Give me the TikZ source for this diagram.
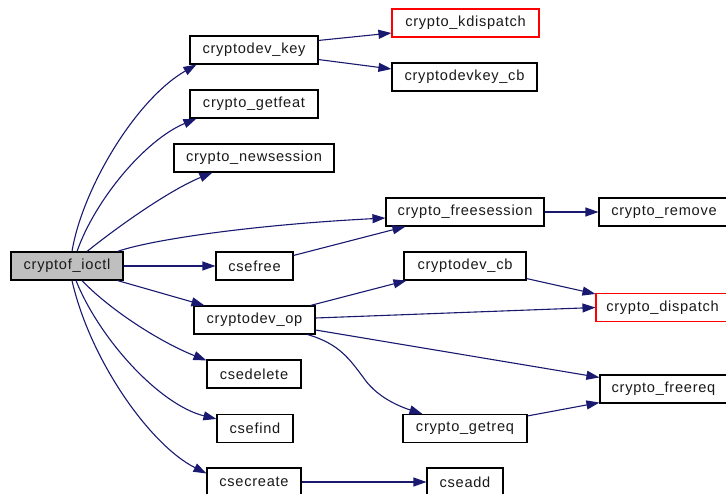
\documentclass[tikz,border=0pt]{standalone}
\usepackage{fontspec}
\setmainfont{Liberation Sans}[LetterSpace=5]
\usetikzlibrary{arrows.meta}
\definecolor{edgeblue}{HTML}{191970}
\definecolor{rootgray}{HTML}{BFBFBF}
\tikzset{
  fn/.style={draw=black, line width=1.1pt, fill=white, inner sep=0pt,
    minimum height=28pt, font=\fontsize{14.6}{16}\selectfont, text=black!90},
  ext/.style={fn, draw=red},
  root/.style={fn, fill=rootgray},
  call/.style={draw=edgeblue, line width=1.1pt,
    -{Triangle[length=13pt,width=9pt]}},
}
\begin{document}
\begin{tikzpicture}[x=1pt,y=-1pt]
\useasboundingbox (0,0) rectangle (726,494);
\clip (0,0) rectangle (726,494);

% functions
\node[root, minimum width=112pt] (ioctl)  at (67,266)    {cryptof\_ioctl};
\node[fn,  minimum width=128pt] (key)     at (254,50)    {cryptodev\_key};
\node[fn,  minimum width=128pt] (getfeat) at (254,104)   {crypto\_getfeat};
\node[fn,  minimum width=160pt] (newsess) at (254,158)   {crypto\_newsession};
\node[ext, minimum width=147pt] (kdisp)   at (465.5,23)  {crypto\_kdispatch};
\node[fn,  minimum width=145pt] (keycb)   at (464.5,77)  {cryptodevkey\_cb};
\node[fn,  minimum width=158pt] (freesess) at (465,212)  {crypto\_freesession};
\node[fn,  minimum width=130pt] (remove)  at (664,212)   {crypto\_remove};
\node[fn,  minimum width=77pt]  (csefree) at (254.5,266) {csefree};
\node[fn,  minimum width=122pt] (devcb)   at (465,266)   {cryptodev\_cb};
\node[ext, minimum width=133pt] (disp)    at (662.5,307.5) {crypto\_dispatch};
\node[fn,  minimum width=121pt] (op)      at (254.5,320) {cryptodev\_op};
\node[fn,  minimum width=94pt]  (csedel)  at (254,374)   {csedelete};
\node[fn,  minimum width=127pt] (freereq) at (663.5,389) {crypto\_freereq};
\node[fn,  minimum width=76pt]  (csefind) at (255,428.5) {csefind};
\node[fn,  minimum width=124pt] (getreq)  at (465,428.5) {crypto\_getreq};
\node[fn,  minimum width=94pt]  (csecreate) at (254,482) {csecreate};
\node[fn,  minimum width=76pt]  (cseadd)  at (465,482)   {cseadd};

% calls made by cryptof_ioctl
\draw[call] ([xshift=5pt]ioctl.north) .. controls (82,190) and (135,100) .. ([xshift=7pt]key.south west);
\draw[call] ([xshift=10pt]ioctl.north) .. controls (95,200) and (145,140) .. ([xshift=7pt]getfeat.south west);
\draw[call] ([xshift=20pt]ioctl.north) .. controls (120,225) and (170,190) .. ([xshift=39pt]newsess.south west);
\draw[call] ([xshift=-6pt]ioctl.north east) .. controls (150,240) and (250,225) .. ([yshift=-6pt]freesess.west);
\draw[call] (ioctl.east) -- (csefree.west);
\draw[call] ([xshift=-6pt]ioctl.south east) -- ([xshift=11pt]op.north west);
\draw[call] ([xshift=15pt]ioctl.south) .. controls (110,310) and (160,342) .. ([yshift=-1pt]csedel.north west);
\draw[call] ([xshift=9pt]ioctl.south) .. controls (100,340) and (160,405) .. ([yshift=-5pt]csefind.north west);
\draw[call] ([xshift=5pt]ioctl.south) .. controls (90,360) and (150,445) .. ([yshift=-6pt]csecreate.north west);

% calls made by cryptodev_key
\draw[call] ([yshift=-5pt]key.north east) -- ([yshift=-10pt]kdisp.west);
\draw[call] ([yshift=5pt]key.south east) -- ([yshift=8pt]keycb.west);

% session handling
\draw[call] (freesess.east) -- (remove.west);
\draw[call] ([yshift=-4pt]csefree.north east) -- ([xshift=20pt]freesess.south west);

% calls made by cryptodev_op
\draw[call] ([xshift=-5pt]op.north east) -- ([xshift=3pt]devcb.south west);
\draw[call] ([yshift=2pt]op.east) -- (disp.west);
\draw[call] ([yshift=-10pt]op.east) -- ([yshift=-3pt]freereq.north west);
\draw[call] ([xshift=-8pt]op.south east) .. controls (340,344) and (350,360) .. (363,377)
  .. controls (375,395) and (395,405) .. ([xshift=20pt]getreq.north west);
\draw[call] ([yshift=2pt]devcb.south east) -- ([yshift=-1pt]disp.north west);
\draw[call] ([yshift=-2pt]getreq.north east) -- ([yshift=1pt]freereq.south west);

% calls made by csecreate
\draw[call] (csecreate.east) -- (cseadd.west);
\end{tikzpicture}
\end{document}
